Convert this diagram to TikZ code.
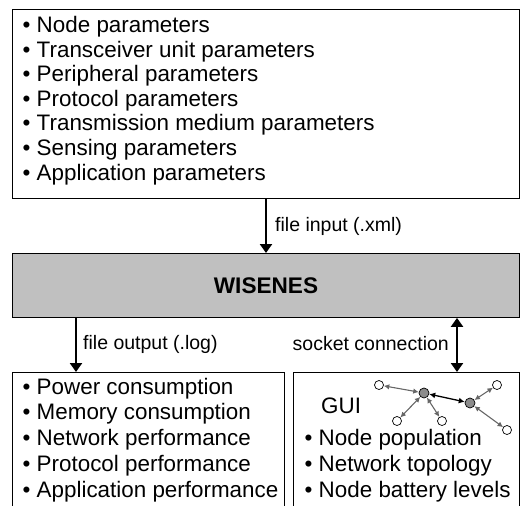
\documentclass[tikz,border=0pt]{standalone}
\usepackage{fontspec}
\setmainfont{Liberation Sans}
\usetikzlibrary{arrows.meta}

\tikzset{
  box/.style={draw=black, line width=0.9pt, inner sep=0pt, anchor=north west},
  item/.style={anchor=base west, inner sep=0pt, font=\fontsize{22.4}{24}\selectfont},
  lbl/.style={inner sep=0pt, font=\fontsize{19.5}{22}\selectfont},
  flow/.style={line width=2.2pt, -{Triangle[width=12pt,length=9pt]}},
  twoway/.style={line width=2.2pt, {Triangle[width=12pt,length=9pt]}-{Triangle[width=12pt,length=9pt]}},
  plain/.style={circle, draw=black, fill=white, line width=0.7pt, minimum size=9pt, inner sep=0pt},
  hub/.style={circle, draw=black, fill=black!45, line width=0.7pt, minimum size=10pt, inner sep=0pt},
  link/.style={line width=1.1pt, draw=black!60, {Latex[length=5.5pt,width=5.5pt]}-{Latex[length=5.5pt,width=5.5pt]}},
  trunk/.style={line width=1.3pt, draw=black, {Latex[length=6pt,width=6pt]}-{Latex[length=6pt,width=6pt]}}
}

\begin{document}
\begin{tikzpicture}[x=1pt, y=-1pt]
			%%%%% START %%%%%
			\useasboundingbox (0,0) rectangle (520,506);
			
			% input parameters
			\node[box, minimum width=507pt, minimum height=189pt] (params) at (12,9) {};
			\node[item] at (22.5,32.5) {• Node parameters};
			\node[item] at (22.5,57) {• Transceiver unit parameters};
			\node[item] at (22.5,81.5) {• Peripheral parameters};
			\node[item] at (22.5,106) {• Protocol parameters};
			\node[item] at (22.5,130.5) {• Transmission medium parameters};
			\node[item] at (22.5,155.5) {• Sensing parameters};
			\node[item] at (22.5,180.5) {• Application parameters};
			
			% simulator
			\node[box, fill={rgb,255:red,192;green,192;blue,192}, minimum width=507pt, minimum height=64pt] (wisenes) at (12,253) {};
			\node[font=\fontsize{22.6}{25}\selectfont\bfseries] (wtitle) at (266,286) {WISENES};
			
			% output boxes (open at the bottom)
			\draw[line width=0.9pt] (12,506) -- (12,372) -- (284,372) -- (284,506);
			\draw[line width=0.9pt] (293,506) -- (293,372) -- (519,372) -- (519,506);
			\coordinate (logtop) at (76,372);
			\coordinate (guitop) at (457,372);
			
			\node[item] at (22.5,394) {• Power consumption};
			\node[item] at (22.5,419.5) {• Memory consumption};
			\node[item] at (22.5,445) {• Network performance};
			\node[item] at (22.5,471) {• Protocol performance};
			\node[item] at (22.5,497) {• Application performance};
			
			\node[item] at (321,413) {GUI};
			\node[item] at (304.5,445.5) {• Node population};
			\node[item] at (304.5,471) {• Network topology};
			\node[item] at (304.5,497) {• Node battery levels};
			
			% connections
			\draw[flow] (params.south -| 266,0) -- (wisenes.north -| 266,0);
			\node[lbl, anchor=west] (inlbl) at (275,226) {file input (.xml)};
			\draw[flow] (wisenes.south -| logtop) -- (logtop);
			\node[lbl, anchor=west] (outlbl) at (83,344) {file output (.log)};
			\draw[twoway] (wisenes.south -| guitop) -- (guitop);
			\node[lbl, anchor=east] (socklbl) at (449,344) {socket connection};
			
			% small network sketch
			\node[hub] (h1) at (424,393) {};
			\node[hub] (h2) at (470,403) {};
			\node[plain] (o1) at (379,385) {};
			\node[plain] (o2) at (397,421) {};
			\node[plain] (o3) at (442,421) {};
			\node[plain] (o4) at (497,385) {};
			\node[plain] (o5) at (507,430) {};
			\draw[link] (o1) -- (h1);
			\draw[link] (o2) -- (h1);
			\draw[link] (o3) -- (h1);
			\draw[link] (o4) -- (h2);
			\draw[link] (o5) -- (h2);
			\draw[trunk] (h1) -- (h2);
			
			%%%%% END %%%%%
\end{tikzpicture}
\end{document}
